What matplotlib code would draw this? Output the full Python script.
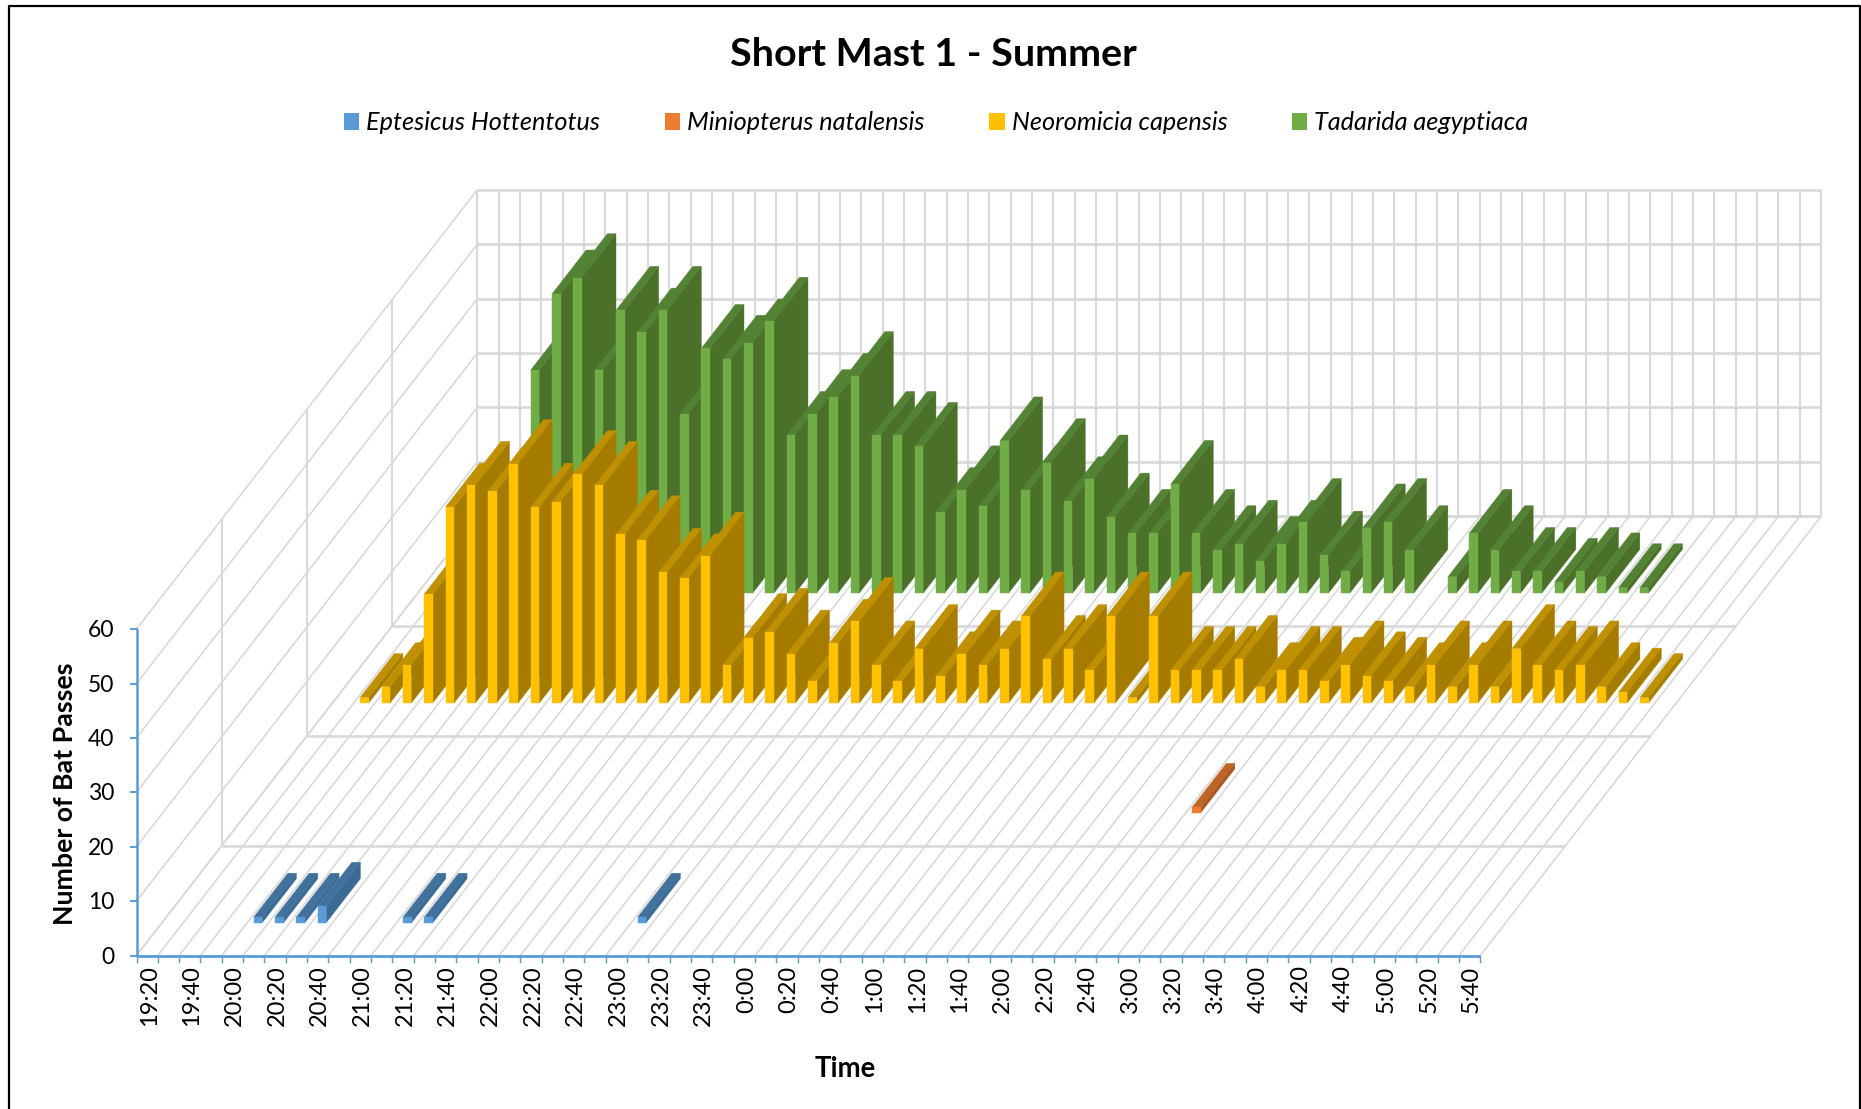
import matplotlib
matplotlib.use("Agg")
import matplotlib.pyplot as plt
from matplotlib.patches import Patch, Polygon

# время по оси X, шаг 10 минут
times = ["19:20", "19:40", "20:00", "20:20", "20:40", "21:00", "21:20", "21:40",
         "22:00", "22:20", "22:40", "23:00", "23:20", "23:40", "0:00", "0:20",
         "0:40", "1:00", "1:20", "1:40", "2:00", "2:20", "2:40", "3:00",
         "3:20", "3:40", "4:00", "4:20", "4:40", "5:00", "5:20", "5:40"]
n_cat = 63

species = ["Eptesicus Hottentotus", "Miniopterus natalensis",
           "Neoromicia capensis", "Tadarida aegyptiaca"]

eptesicus = {4: 1, 5: 1, 6: 1, 7: 3, 11: 1, 12: 1, 22: 1}
miniopterus = {44: 1}
neoromicia = [0, 1, 3, 7, 20, 36, 40, 39, 44, 36, 37, 42, 40, 31, 30, 24, 23, 27,
              7, 12, 13, 9, 4, 11, 15, 7, 4, 10, 5, 9, 7, 10, 16, 8, 10, 6, 16, 1,
              16, 6, 6, 6, 8, 3, 6, 6, 4, 7, 5, 4, 3, 7, 3, 7, 3, 10, 7, 6, 7, 3,
              2, 1, 0]
tadarida = [0, 0, 0, 0, 0, 41, 55, 58, 41, 52, 48, 52, 33, 45, 43, 46, 50, 29, 33,
            36, 40, 29, 29, 27, 15, 19, 16, 28, 19, 24, 17, 21, 14, 11, 11, 20, 11,
            8, 9, 6, 9, 13, 7, 4, 12, 13, 8, 0, 3, 11, 8, 4, 4, 2, 4, 3, 1, 1, 0,
            0, 0, 0, 0]

y_ticks = [0, 10, 20, 30, 40, 50, 60]

# цвета: лицевая, боковая, верхняя грани
colors = [("#5B9BD5", "#3A6A96", "#41719C"),
          ("#ED7D31", "#A85820", "#BE6425"),
          ("#FFC000", "#A67C00", "#BF9000"),
          ("#70AD47", "#4A7029", "#548235")]

GRID = "#D9D9D9"
AXIS = "#5B9BD5"

# геометрия косой проекции (пиксели картинки)
X0, Y0 = 136.5, 955.5
DX_CAT = 21.33
DX_DEPTH, DY_DEPTH = 85.2, -109.8
DY_VAL = 5.44


def project(cat, depth, val):
    """Перевод (категория, глубина, значение) в координаты рисунка."""
    x = X0 + cat * DX_CAT + depth * DX_DEPTH
    y = Y0 + depth * DY_DEPTH - val * DY_VAL
    return x, y


def line3d(ax, p, q, lw=1.0, color=GRID, zorder=1):
    a = project(*p)
    b = project(*q)
    ax.plot([a[0], b[0]], [a[1], b[1]], color=color, lw=lw,
            solid_capstyle="butt", zorder=zorder)


def draw_bar(ax, cat, depth, val, cols):
    """Один столбец: ширина и глубина 0.4 от ячейки (зазор 150%)."""
    c0, c1 = cat + 0.3, cat + 0.7
    d0, d1 = depth + 0.3, depth + 0.7
    front = [(c0, d0, 0), (c1, d0, 0), (c1, d0, val), (c0, d0, val)]
    side = [(c1, d0, 0), (c1, d1, 0), (c1, d1, val), (c1, d0, val)]
    top = [(c0, d0, val), (c1, d0, val), (c1, d1, val), (c0, d1, val)]
    for face, col in zip((side, top, front), (cols[1], cols[2], cols[0])):
        ax.add_patch(Polygon([project(*p) for p in face], closed=True, zorder=3,
                             facecolor=col, edgecolor=col, lw=0.3))


fig = plt.figure(figsize=(18.61, 11.09), dpi=100)
plt.rcParams["font.family"] = ["Lato", "DejaVu Sans"]
ax = fig.add_axes([0, 0, 1, 1])
ax.set_xlim(0, 1861)
ax.set_ylim(1109, 0)
ax.axis("off")

# рамка диаграммы
ax.plot([9, 9, 1860, 1860], [1109, 6, 6, 1109], color="black", lw=1.6)

# пол
for c in range(n_cat + 1):
    line3d(ax, (c, 0, 0), (c, 4, 0), lw=1.2)
for d in range(1, 5):
    line3d(ax, (0, d, 0), (n_cat, d, 0), lw=1.9)

# задняя стенка
for c in range(n_cat + 1):
    line3d(ax, (c, 4, 0), (c, 4, 60), lw=1.5)
for v in y_ticks:
    line3d(ax, (0, 4, v), (n_cat, 4, v), lw=1.9)

# левая стенка
for v in y_ticks:
    line3d(ax, (0, 0, v), (0, 4, v), lw=1.2)
for d in range(1, 5):
    line3d(ax, (0, d, 0), (0, d, 60), lw=1.5)

# столбцы: от дальнего ряда к ближнему, слева направо
for i, val in enumerate(tadarida):
    if val > 0:
        draw_bar(ax, i, 3, val, colors[3])
for i, val in enumerate(neoromicia):
    if val > 0:
        draw_bar(ax, i, 2, val, colors[2])
for i, val in miniopterus.items():
    draw_bar(ax, i, 1, val, colors[1])
for i, val in eptesicus.items():
    draw_bar(ax, i, 0, val, colors[0])

# ось Y
line3d(ax, (0, 0, 0), (0, 0, 60), lw=1.8, color=AXIS, zorder=4)
for v in y_ticks:
    x, y = project(0, 0, v)
    ax.plot([x - 6, x], [y, y], color=AXIS, lw=1.4)
    ax.text(x - 22, y + 1.5, str(v), ha="right", va="center", fontsize=16.5)

# ось X
line3d(ax, (0, 0, 0), (n_cat, 0, 0), lw=2.0, color=AXIS, zorder=4)
for c in range(n_cat + 1):
    x, y = project(c, 0, 0)
    ax.plot([x, x], [y, y + 6], color=AXIS, lw=1.0)
for k, lab in enumerate(times):
    x, y = project(2 * k + 0.5, 0, 0)
    ax.text(x + 2, y + 10, lab, rotation=90, ha="center", va="top", fontsize=17)

ax.text(933.5, 55, "Short Mast 1 - Summer", ha="center", va="center",
        fontsize=28.4, fontweight="bold")
ax.text(65, 794, "Number of Bat Passes", rotation=90, ha="center", va="center",
        fontsize=19.3, fontweight="bold")
ax.text(845, 1069, "Time", ha="center", va="center", fontsize=19.8, fontweight="bold")

handles = [Patch(facecolor=colors[k][0], edgecolor="none", label=species[k]) for k in range(4)]
leg = ax.legend(handles=handles, ncol=4, loc="center", bbox_to_anchor=(936 / 1861, 1 - 123 / 1109),
                frameon=False, handlelength=0.62, handleheight=0.62, handletextpad=0.27,
                columnspacing=2.55, prop={"size": 18.2, "style": "italic"})

fig.savefig("out.png", dpi=100)
